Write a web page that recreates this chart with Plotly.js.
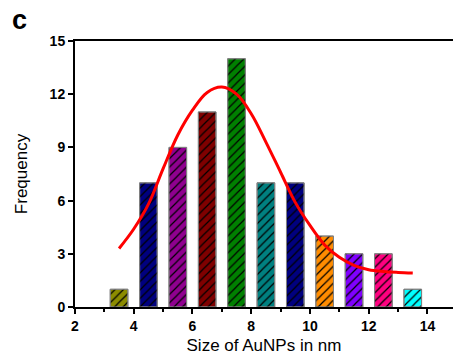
<!DOCTYPE html>
<html>
<head>
<meta charset="utf-8">
<script src="https://cdn.plot.ly/plotly-3.0.1.min.js"></script>
<style>html,body{margin:0;padding:0;background:#fff;}#chart{width:453px;height:360px;}</style>
</head>
<body>
<div id="chart"></div>
<script>
// Histogram bins (bin centres, nm) and counts
const binCenters = [3.5, 4.5, 5.5, 6.5, 7.5, 8.5, 9.5, 10.5, 11.5, 12.5, 13.5];
const frequency = [1, 7, 9, 11, 14, 7, 7, 4, 3, 3, 1];
const barColors = ['#8c8c00', '#00007f', '#8f008f', '#7f0000', '#008000', '#008080', '#00007f', '#ff8c00', '#8000ff', '#ff0080', '#00ffff'];

// Fitted curve
const fitX = [3.5, 4.0, 4.5, 5.0, 5.5, 6.0, 6.5, 7.0, 7.5, 8.0, 8.5, 9.0, 9.5, 10.0, 10.5, 11.0, 11.5, 12.0, 12.5, 13.0, 13.5];
const fitY = [3.3, 4.4, 5.8, 7.8, 9.7, 11.1, 12.1, 12.4, 12.0, 10.9, 9.3, 7.6, 5.9, 4.6, 3.5, 2.8, 2.35, 2.1, 2.0, 1.95, 1.92];

const xTicks = [2, 4, 6, 8, 10, 12, 14];
const yTicks = [0, 3, 6, 9, 12, 15];

const traces = [
  {
    type: 'bar', x: binCenters, y: frequency, width: 0.6,
    marker: {color: barColors, line: {color: '#808080', width: 1}},
    hoverinfo: 'x+y'
  },
  {
    type: 'bar', x: binCenters, y: frequency, width: 0.6,
    marker: {
      color: '#000000',
      line: {color: '#808080', width: 1},
      pattern: {shape: '/', size: 6, solidity: 0.2, fillmode: 'replace'}
    },
    hoverinfo: 'skip'
  },
  {
    type: 'scatter', mode: 'lines', x: fitX, y: fitY,
    line: {color: '#ff0000', width: 3, shape: 'spline'}
  }
];

const fam = 'Liberation Sans, Arial, sans-serif';

const layout = {
  width: 453, height: 360,
  margin: {l: 75, r: 0, t: 41, b: 53},
  paper_bgcolor: '#fff', plot_bgcolor: '#fff',
  showlegend: false,
  barmode: 'overlay',
  bargap: 0,
  xaxis: {
    range: [2, 14.87], tickvals: xTicks, ticktext: xTicks.map(String),
    showline: true, linecolor: '#000', linewidth: 2, mirror: true,
    ticks: 'outside', ticklen: 5, tickwidth: 2, tickcolor: '#000',
    minor: {tickvals: [3, 5, 7, 9, 11, 13], ticks: 'outside', ticklen: 3, tickwidth: 2, tickcolor: '#000'},
    showgrid: false, zeroline: false,
    tickfont: {family: fam, size: 14, color: '#000', weight: 'bold'},
    title: {text: 'Size of AuNPs in nm', font: {family: fam, size: 17, color: '#000'}, standoff: 6}
  },
  yaxis: {
    range: [0, 15], tickvals: yTicks, ticktext: yTicks.map(String),
    showline: true, linecolor: '#000', linewidth: 2, mirror: false,
    ticks: 'outside', ticklen: 5, tickwidth: 2, tickcolor: '#000',
    showgrid: false, zeroline: false,
    tickfont: {family: fam, size: 14, color: '#000', weight: 'bold'},
    title: {text: 'Frequency', font: {family: fam, size: 17, color: '#000'}, standoff: 18}
  },
  annotations: [{
    text: '<b>c</b>', xref: 'paper', yref: 'paper', x: -0.147, y: 1.08,
    xanchor: 'center', yanchor: 'middle', showarrow: false,
    font: {family: fam, size: 27, color: '#000'}
  }]
};

Plotly.newPlot('chart', traces, layout, {displayModeBar: false, staticPlot: true});
</script>
</body>
</html>
